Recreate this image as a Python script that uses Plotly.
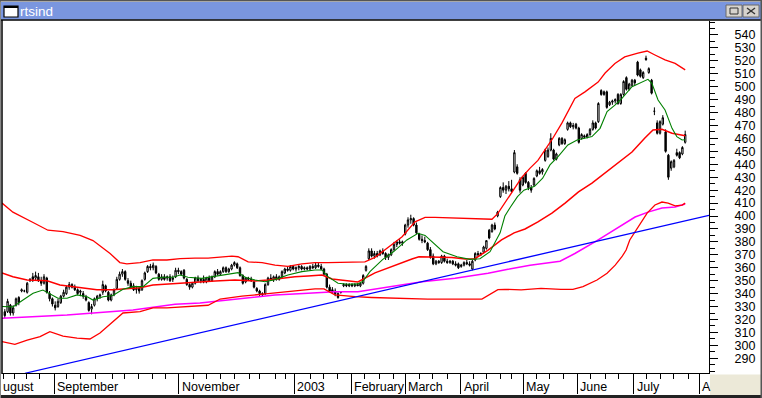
import plotly.graph_objects as go

# ---------------- data ----------------
opens = [326,326,331,325,331,337,342,342,341,350,353,352,353,350,348,352,340,336,331,330,
         333,338,340,345,347,345,343,341,340,337,333,328,331,336,338,341,346,341,335,339,
         344,351,355,357,350,348,346,343,344,343,351,357,361,360,361,355,351,353,352,353,
         351,353,358,357,358,351,347,345,348,352,350,351,349,352,350,353,357,355,357,360,
         357,359,362,363,360,354,349,352,351,349,344,342,340,340,347,352,351,353,351,353,
         356,359,358,361,359,360,361,359,360,359,361,360,362,361,359,355,345,343,342,340,
         341,346,347,346,347,346,347,346,348,358,367,373,369,371,370,373,371,368,370,374,
         378,380,379,386,393,397,398,393,386,382,381,379,374,369,363,365,364,369,365,364,
         365,363,363,361,362,364,363,359,366,371,370,372,375,389,388,393,400,415,422,420,
         423,421,434,438,428,424,433,426,422,424,431,435,434,443,446,451,451,444,455,460,
         456,467,472,469,471,468,460,462,461,463,467,472,473,497,496,496,486,488,489,494,
         487,494,507,498,501,505,519,513,507,522,511,505,481,472,464,471,465,447,437,438,
         449,449,448,457]
highs = [328,336,332,331,337,338,344,343,349,352,356,357,356,353,355,353,342,337,334,336,
         339,343,346,349,348,347,344,343,342,339,334,332,337,339,340,350,347,342,340,344,
         353,357,359,358,352,350,348,346,345,351,357,362,363,364,362,356,355,355,354,355,
         354,360,360,358,359,352,348,349,353,354,352,354,353,354,354,358,359,358,361,361,
         360,363,365,364,361,355,353,353,353,350,345,343,341,348,353,355,354,355,354,358,
         360,361,362,362,361,362,362,361,361,362,363,364,364,363,360,356,347,345,344,341,
         342,348,348,348,348,348,348,349,355,362,375,375,373,373,374,375,372,371,375,380,
         381,382,381,394,399,401,399,395,387,385,384,380,376,371,366,366,370,370,367,366,
         366,365,364,363,365,366,365,366,372,373,372,377,381,390,394,395,404,423,426,424,
         427,428,451,440,430,431,434,427,424,430,436,438,437,452,453,464,452,449,461,461,
         460,473,473,472,472,469,464,463,464,468,474,473,488,498,497,497,489,490,491,495,
         495,505,508,503,506,506,520,514,512,524,515,506,484,474,474,478,467,448,443,444,
         452,450,454,466]
lows = [321,325,323,323,330,331,341,341,340,349,349,350,349,346,347,340,334,330,327,329,
        332,337,339,343,344,342,339,338,336,334,326,324,330,334,336,339,341,334,334,338,
        343,350,353,350,346,344,342,340,340,342,350,356,358,358,355,350,350,350,350,349,
        349,352,355,354,351,346,343,344,347,349,348,348,348,349,349,352,354,354,356,356,
        356,358,361,359,353,347,348,350,349,344,341,338,338,339,346,350,349,350,350,352,
        355,357,357,358,357,358,358,358,358,358,359,359,360,358,354,344,341,340,338,336,
        340,345,345,345,345,345,346,345,347,357,366,368,367,368,369,370,366,366,369,373,
        376,378,377,385,391,394,392,386,381,379,379,373,367,362,362,363,363,364,363,363,
        362,361,359,360,361,362,361,358,365,369,369,371,374,382,387,389,399,414,418,417,
        419,418,433,432,418,423,425,420,418,423,430,432,432,442,445,450,443,443,454,455,
        455,466,468,467,467,456,459,460,460,462,466,467,472,493,493,483,485,486,487,486,
        486,493,497,497,500,501,508,507,506,520,510,494,478,463,463,470,449,428,435,437,
        446,444,447,456]
closes = [323,334,325,329,336,333,343,342,348,351,351,354,350,348,353,341,336,332,329,334,
          338,341,345,347,345,343,340,342,338,335,327,330,336,338,339,347,342,335,339,343,
          351,355,357,351,348,345,343,344,342,350,356,361,360,362,356,351,353,351,353,350,
          352,358,357,355,352,347,345,348,352,350,351,349,352,350,353,357,355,357,360,357,
          359,362,364,360,354,348,352,351,350,345,342,340,339,347,352,351,353,351,353,357,
          359,358,361,359,360,361,359,360,359,361,360,362,361,359,355,345,342,341,340,337,
          341,347,346,347,346,347,346,348,354,361,373,369,371,369,373,371,368,370,374,378,
          380,379,380,393,397,398,393,387,382,381,380,374,368,363,365,364,369,365,364,365,
          363,362,360,362,364,363,362,365,371,370,371,376,381,383,393,390,403,422,420,423,
          421,419,449,433,420,430,426,422,420,429,435,433,436,451,451,460,444,448,460,456,
          459,472,469,470,468,457,463,461,463,467,472,468,487,494,494,484,488,489,490,487,
          494,504,498,502,505,503,509,508,511,521,514,495,481,464,473,476,450,430,442,443,
          447,445,453,463]

# indicator lines: (trading-day index, value)
upper_band = [(-1,410),(2.9,403),(10.1,395),(15.4,389),(20.8,388),(26.9,385),(31.5,381),(35.1,375),
              (37.6,371),(41.1,364),(43.6,363),(48.3,364),(52.9,366),(57.9,366),(62.6,367),(67.9,367.5),
              (72.6,367.5),(81.1,369),(83.3,368.5),(86.9,364.5),(91.9,364),(96.5,362),(101.1,361),
              (106.1,363),(110.8,364),(115.4,364),(126.1,364),(128.6,364.5),(132.2,368),(136.9,376),
              (141.9,384),(146.5,395.5),(150.1,399),(153.6,399),(160.8,398.5),(167.9,398),(174.0,397.5),
              (176.1,402),(178.6,410),(182.2,422.5),(184.7,430),(187.6,437),(190.4,443),(195.4,459),
              (199.0,472),(203.6,491),(207.2,496),(211.9,503.6),(214.4,510.6),(217.9,518),(221.4,523),
              (226.1,526),(229.4,527.6),(232.2,524.5),(235.8,520.7),(239.4,518),(243.0,513)]
middle_band = [(-1,356),(2.9,353),(8.0,350.5),(15.1,350),(19.7,346.7),(25.8,345),(32.9,343),(38.6,343),
               (43.6,344),(48.3,344.5),(52.9,346.7),(57.9,347.5),(62.6,348),(67.9,349),(75.1,349.7),
               (82.2,350.5),(89.4,349.7),(94.0,350.5),(99.0,352),(103.6,353),(108.3,353.6),(113.3,354.4),
               (116.9,351.3),(120.4,350.5),(126.1,349),(132.2,356),(136.9,359.8),(141.1,363.7),
               (145.4,366.8),(147.9,368.4),(152.6,368.4),(159.7,368),(164.4,366.8),(167.9,367),
               (172.6,373.7),(177.4,381.5),(181.9,387),(185.8,390),(190.4,395.4),(195.4,402.3),
               (200.1,410),(204.9,418.6),(209.7,425.5),(214.4,433.3),(219.0,441),(224.0,449.5),
               (228.6,460.3),(231.5,466.5),(234.7,467),(238.3,464),(243.0,462)]
lower_band = [(-1,302.8),(3.6,300.8),(8.0,304),(12.6,306.7),(16.1,310.5),(20.8,307.2),(25.8,305.6),
              (30.4,304.9),(34.0,309.5),(38.6,318.3),(42.2,325),(48.3,326),(52.9,328.9),(57.9,329),
              (62.6,329.8),(72.6,331),(76.9,335.8),(84.7,338),(94.0,340),(110.8,343.6),(114.0,343.6),
              (117.9,339),(125.1,337.6),(131.0,337),(151.1,335.8),(170.4,335.8),(176.1,343),(178.6,343.3),
              (184.4,342.9),(191.5,344),(198.6,343.3),(202.9,343.3),(206.5,345.4),(211.5,350.5),
              (215.1,355.7),(218.0,362),(220.4,368.5),(221.9,373.7),(223.2,381.5),(226.1,391.5),
              (229.4,402.3),(232.2,408.5),(234.7,410.8),(236.9,410),(239.4,407.8),(241.9,408.5),(243.0,410)]
short_ma = [(-1,330),(2.9,329.7),(6.5,335),(10.1,340.2),(13.6,342.8),(16.1,340),(19.0,336.4),(22.2,336.4),
            (25.8,339),(29.4,337.6),(31.5,335),(35.1,337.6),(38.6,338.5),(42.2,343.3),(45.8,345.4),
            (49.4,345.4),(52.9,351.8),(56.5,352.6),(60.1,352.6),(62.6,354.4),(65.4,352.6),(70.4,351.8),
            (75.1,353.6),(79.7,355),(83.3,356.2),(85.8,352.6),(89.4,350.5),(92.9,349.2),(96.5,350.8),
            (101.1,354.4),(106.1,357),(110.8,358.3),(113.3,358.3),(115.4,353.1),(119.0,348),(122.6,347.2),
            (126.1,347.5),(127.9,349.5),(130.4,357),(135.0,366.5),(138.9,372.5),(143.6,381.5),
            (147.6,386.6),(150.1,385),(153.0,379),(156.5,372.4),(161.5,368.5),(166.1,366.5),(169.7,367),
            (173.3,372.4),(176.9,387),(178.6,400),(180.6,407),(183.1,415),(185.4,420),(187.6,422),
            (189.2,423),(192.1,429.2),(194.7,439.5),(197.6,445.9),(201.1,454.9),(204.4,458.8),
            (209.7,461.4),(212.6,467.8),(215.1,480.7),(218.0,485.9),(220.4,491),(224.0,500),
            (227.6,503.9),(229.7,505.7),(231.1,502.6),(233.3,489.7),(235.8,482),(238.3,467.8),
            (240.0,461.4),(241.9,458.8),(243.0,459)]
long_ma = [(-1,321),(22.2,323.4),(45.8,327.3),(60.8,331.8),(69.7,332.8),(84.7,336.4),(96.5,339),
           (108.3,340.2),(117.9,341.5),(126.1,341.5),(136.9,345.4),(149.0,349.2),(160.8,351.8),
           (172.6,355.7),(179.7,358.8),(187.6,362),(198.3,365),(203.6,371),(211.5,381),(219.0,390.7),
           (225.1,399.2),(229.7,403),(234.7,406.2),(239.4,407),(243.0,409.3)]
trendline = [(7.2,278.4),(251.5,400.5)]

month_ticks = [17.6, 62.2, 103.4, 123.8, 143.0, 162.9, 185.2, 204.5, 224.7, 248.0]
month_labels = ["September", "November", "2003", "February", "March", "April", "May", "June", "July", "A"]
week_ticks = [-0.5, 3.5, 7.8, 12.3, 22.1, 27.1, 32.3, 38.3, 42.9, 47.6, 52.6, 57.5, 67.3, 72.1, 76.9,
              82.0, 87.3, 91.1, 96.5, 100.1, 109.0, 113.8, 118.9, 128.6, 133.8, 138.8, 148.0, 152.8,
              158.0, 167.3, 172.1, 177.1, 181.0, 190.0, 194.7, 199.5, 209.3, 214.4, 219.1, 229.3,
              234.3, 238.8, 244.1]
price_ticks = list(range(290, 541, 10))
window_title = "rtsind"

# ---------------- figure ----------------
W, H = 762, 398
L, R, T, B = 2, 53, 21, 25
PW, PH = W - L - R, H - T - B


def px(x):
    return (x - L) / PW


def py(y):
    return (H - B - y) / PH


FONT = "Liberation Sans, Arial, sans-serif"
fig = go.Figure()
idx = list(range(len(closes)))
fig.add_trace(go.Candlestick(
    x=idx, open=opens, high=highs, low=lows, close=closes,
    increasing=dict(line=dict(color="black", width=1), fillcolor="white"),
    decreasing=dict(line=dict(color="black", width=1), fillcolor="black"),
    whiskerwidth=0, hoverinfo="skip", showlegend=False))


def add_line(pairs, color, width):
    xs = [p[0] for p in pairs]
    ys = [p[1] for p in pairs]
    fig.add_trace(go.Scatter(x=xs, y=ys, mode="lines", line=dict(color=color, width=width),
                             hoverinfo="skip", showlegend=False))


add_line(long_ma, "#FF00FF", 1.5)
add_line(lower_band, "#FF0000", 1.3)
add_line(upper_band, "#FF0000", 1.3)
add_line(middle_band, "#FF0000", 1.5)
add_line(short_ma, "#008000", 1.1)
add_line(trendline, "#0000FF", 1.3)

shapes = []
# title bar
shapes.append(dict(type="rect", xref="paper", yref="paper", x0=px(1), x1=px(761), y0=py(2), y1=py(19.5),
                   fillcolor="#7A96DF", line=dict(width=0), layer="above"))
shapes.append(dict(type="line", xref="paper", yref="paper", x0=px(1), x1=px(761), y0=py(20), y1=py(20),
                   line=dict(color="black", width=1.5), layer="above"))
# icon
shapes.append(dict(type="rect", xref="paper", yref="paper", x0=px(4), x1=px(18), y0=py(6), y1=py(17),
                   fillcolor="white", line=dict(color="black", width=1.2), layer="above"))
shapes.append(dict(type="rect", xref="paper", yref="paper", x0=px(4), x1=px(18), y0=py(6), y1=py(8),
                   fillcolor="black", line=dict(width=0), layer="above"))
# buttons
for bx in (726, 743):
    shapes.append(dict(type="rect", xref="paper", yref="paper", x0=px(bx), x1=px(bx + 16), y0=py(5), y1=py(17),
                       fillcolor="#D6D3CE", line=dict(color="#6B6B6B", width=1), layer="above"))
shapes.append(dict(type="rect", xref="paper", yref="paper", x0=px(730), x1=px(738), y0=py(8), y1=py(14),
                   line=dict(color="#333333", width=1), layer="above"))
shapes.append(dict(type="line", xref="paper", yref="paper", x0=px(747), x1=px(755), y0=py(8), y1=py(14),
                   line=dict(color="#333333", width=1.3), layer="above"))
shapes.append(dict(type="line", xref="paper", yref="paper", x0=px(755), x1=px(747), y0=py(8), y1=py(14),
                   line=dict(color="#333333", width=1.3), layer="above"))
# left border of the chart
shapes.append(dict(type="line", xref="paper", yref="paper", x0=px(2), x1=px(2), y0=py(20), y1=py(374),
                   line=dict(color="black", width=1.5), layer="above"))
# bottom-right grey box and window bottom
shapes.append(dict(type="rect", xref="paper", yref="paper", x0=px(710), x1=px(761), y0=py(374.5), y1=py(395),
                   fillcolor="#ECE9D8", line=dict(width=0), layer="above"))
shapes.append(dict(type="rect", xref="paper", yref="paper", x0=px(0), x1=px(762), y0=py(395), y1=py(398),
                   fillcolor="#222222", line=dict(width=0), layer="above"))
shapes.append(dict(type="rect", xref="paper", yref="paper", x0=px(760.5), x1=px(762), y0=py(0), y1=py(398),
                   fillcolor="#555555", line=dict(width=0), layer="above"))
shapes.append(dict(type="rect", xref="paper", yref="paper", x0=px(0), x1=px(1), y0=py(0), y1=py(398),
                   fillcolor="#888888", line=dict(width=0), layer="above"))
shapes.append(dict(type="rect", xref="paper", yref="paper", x0=px(0), x1=px(762), y0=py(0), y1=py(1.5),
                   fillcolor="#555555", line=dict(width=0), layer="above"))

annotations = [dict(text=window_title, xref="paper", yref="paper", x=px(18), y=py(11.5), xanchor="left",
                    yanchor="middle", showarrow=False, font=dict(family=FONT, size=13.5, color="white"))]
annotations.append(dict(text="ugust", xref="paper", yref="paper", x=px(1), y=py(386.5), xanchor="left",
                        yanchor="middle", showarrow=False, font=dict(family=FONT, size=12.5, color="black")))
for mt, ml in zip(month_ticks, month_labels):
    annotations.append(dict(text=ml, xref="x", yref="paper", x=mt, y=py(386.5), xanchor="left", xshift=1,
                            yanchor="middle", showarrow=False, font=dict(family=FONT, size=12.5, color="black")))

fig.update_layout(
    width=W, height=H, margin=dict(l=L, r=R, t=T, b=B, pad=0),
    paper_bgcolor="white", plot_bgcolor="white", showlegend=False, hovermode=False,
    shapes=shapes, annotations=annotations,
    xaxis=dict(range=[-1, 251.5], showgrid=False, zeroline=False, showline=True, linecolor="black",
               linewidth=1, ticks="outside", tickmode="array", tickvals=month_ticks, ticklen=20,
               tickcolor="black", tickwidth=1, showticklabels=False, rangeslider=dict(visible=False),
               fixedrange=True,
               minor=dict(tickmode="array", tickvals=week_ticks, ticks="outside", ticklen=5,
                          tickcolor="black", tickwidth=1, showgrid=False)),
    yaxis=dict(range=[278.6, 550.8], side="right", showgrid=False, zeroline=False, showline=True,
               linecolor="black", linewidth=1, ticks="outside", tickmode="array", tickvals=price_ticks,
               ticklen=8, tickcolor="black", tickwidth=1, ticklabelstandoff=14, fixedrange=True,
               tickfont=dict(family=FONT, size=12.5, color="black"),
               minor=dict(dtick=5, tick0=0, ticks="outside", ticklen=5, tickcolor="black", tickwidth=1,
                          showgrid=False)),
)

fig.write_html("out.html", config={"displayModeBar": False},
               post_script="document.body.style.margin='0';document.body.style.padding='0';"
                           "document.body.style.overflow='hidden';")
